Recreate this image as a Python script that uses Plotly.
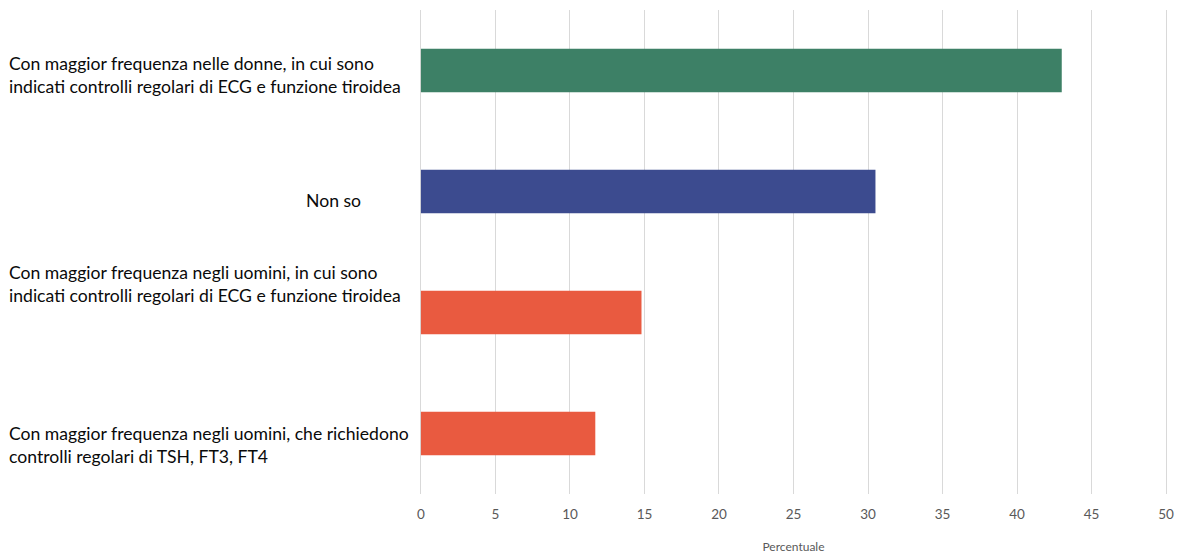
import plotly.graph_objects as go

# Survey answers (bottom-to-top order on the chart) and their percentages
categories = [
    "Con maggior frequenza negli uomini, che richiedono<br>controlli regolari di TSH, FT3, FT4",
    "Con maggior frequenza negli uomini, in cui sono<br>indicati controlli regolari di ECG e funzione tiroidea",
    "Non so",
    "Con maggior frequenza nelle donne, in cui sono<br>indicati controlli regolari di ECG e funzione tiroidea",
]
values = [11.7, 14.8, 30.5, 43.0]
colors = ["#E95A40", "#E95A40", "#3C4B8F", "#3D8066"]
x_ticks = [0, 5, 10, 15, 20, 25, 30, 35, 40, 45, 50]
x_title = "Percentuale"

W, H = 1180, 555
ML, MR, MT, MB = 419, 12, 10, 61
plot_w = W - ML - MR
plot_h = H - MT - MB

fig = go.Figure(
    go.Bar(
        y=list(range(len(categories))),
        x=values,
        orientation="h",
        marker=dict(color=colors, line=dict(width=0)),
        width=0.36,
        hoverinfo="x",
    )
)

# Category labels drawn as free text on the left, placed in pixel space
label_pos = [  # (left px, vertical centre px, anchor)
    (7, 445, "left"),
    (7, 284, "left"),
    (363, 201, "right"),
    (7, 75, "left"),
]
annotations = []
for text, (px, py, anchor) in zip(categories, label_pos):
    annotations.append(
        dict(
            text=text,
            xref="paper", yref="paper",
            x=(px - ML) / plot_w,
            y=(H - MB - py) / plot_h,
            xanchor=anchor, yanchor="middle",
            align="left",
            showarrow=False,
            font=dict(family="Lato", size=17.6, color="#0A0A0A"),
        )
    )

fig.update_layout(
    width=W, height=H,
    margin=dict(l=ML, r=MR, t=MT, b=MB, autoexpand=False),
    paper_bgcolor="white",
    plot_bgcolor="white",
    showlegend=False,
    annotations=annotations,
    xaxis=dict(
        range=[-0.13, 50.13],
        tickvals=x_ticks,
        showgrid=True,
        gridcolor="#D9D9D9",
        gridwidth=1,
        zeroline=False,
        showline=False,
        ticks="",
        ticklabelstandoff=10,
        tickfont=dict(family="Lato", size=13.5, color="#595959"),
        title=dict(text=x_title, font=dict(family="Lato", size=12, color="#595959"), standoff=22),
    ),
    yaxis=dict(
        range=[-0.5, len(categories) - 0.5],
        showticklabels=False,
        showgrid=False,
        zeroline=False,
        showline=False,
        ticks="",
    ),
)

fig.write_html("out.html")
